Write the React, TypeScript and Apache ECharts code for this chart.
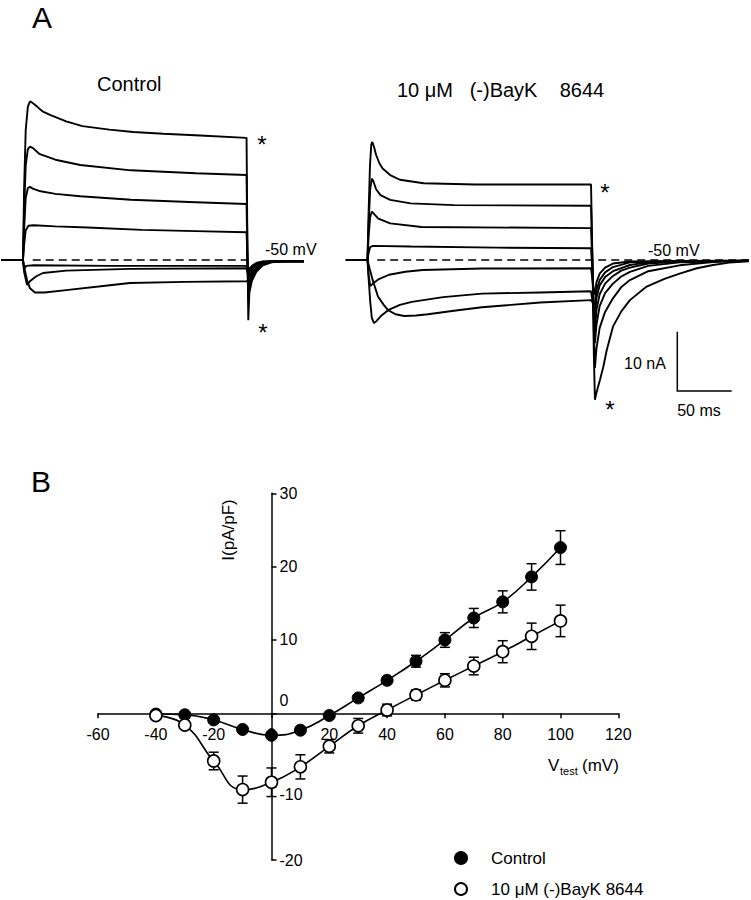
import React, { useEffect, useRef } from "react";
import * as echarts from "echarts";

const FONT = '"Liberation Sans", Arial, sans-serif';

// ---------- Panel A: current traces (time in ms, current in nA) ----------
const ctrlT1 = [[0,0],[20,0],[21,12],[22.5,22],[24.5,26],[26.5,26.9],[29,26.6],[33,26.0],[38,25.2],[45,24.6],[60,23.5],[75,22.7],[100,22.1],[122,21.7],[150,21.4],[184,21.1],[227,20.7],[227.8,2],[228.6,-10.2],[229.6,-5.5],[232,-3.5],[236,-2.0],[242,-0.9],[250,-0.4],[262,-0.2],[280,-0.2]];
const ctrlT2 = [[0,0],[20,0],[21,8],[22.5,16],[24.5,18.8],[26.5,19.2],[29,19.0],[35,18.0],[50,17.0],[73,16.1],[120,15.2],[180,14.7],[227,14.4],[227.8,1],[228.6,-6.8],[230,-4.2],[232,-3.0],[236,-1.7],[242,-0.8],[250,-0.35],[262,-0.2],[280,-0.2]];
const ctrlT3 = [[0,0],[20,0],[21,5],[22.5,10.5],[24.5,12.2],[26.5,12.4],[29,12.1],[35,11.7],[50,11.2],[73,10.8],[120,10.2],[180,9.8],[227,9.5],[227.8,0],[228.6,-5.3],[230,-3.6],[232,-2.6],[236,-1.4],[242,-0.65],[250,-0.3],[262,-0.2],[280,-0.2]];
const ctrlT4 = [[0,0],[20,0],[21,2.5],[22.5,5],[25,5.8],[30,5.9],[50,5.7],[80,5.5],[130,5.1],[180,4.9],[227,4.7],[227.8,0],[228.6,-4.2],[230,-3.0],[232,-2.1],[236,-1.1],[242,-0.5],[250,-0.25],[262,-0.2],[280,-0.2]];
const ctrlT5 = [[0,0],[20,0],[21,-1.5],[23,-1.0],[30,-0.9],[100,-1.0],[227,-1.0],[228.6,-1.9],[230,-1.4],[232,-1.0],[236,-0.5],[242,-0.25],[280,-0.2]];
const ctrlT6 = [[0,0],[20,0],[21,-2],[23.7,-4.2],[27,-3.5],[32,-2.8],[38.5,-2.2],[60,-1.8],[119,-1.5],[227,-1.4],[228.6,-2.6],[230,-1.9],[232,-1.3],[236,-0.7],[242,-0.3],[250,-0.2],[280,-0.2]];
const ctrlT7 = [[0,0],[20,0],[21.5,-1.5],[23.7,-3.4],[26.5,-4.8],[31,-5.5],[40,-5.5],[60,-5.1],[90,-4.5],[119,-3.9],[170,-3.7],[227,-3.6],[228.6,-3.5],[230,-2.5],[232,-1.8],[236,-0.9],[242,-0.4],[250,-0.2],[280,-0.2]];
const ctrlDash = [[29,0],[228,0]];

const bayT1 = [[0,0],[20,0],[21,8],[22.3,16],[23.5,19.6],[24.5,20.0],[26,19.2],[28,17.8],[31,16.4],[34,15.5],[41,14.4],[50,13.6],[72,13.0],[120,12.8],[227,12.8],[228.3,0],[229.6,-16],[230.6,-23.7],[232,-22.5],[235.3,-20.3],[238.5,-18],[241.5,-15.3],[247.3,-11.3],[255,-8.7],[263,-6.8],[278.5,-4.5],[295,-3.2],[309,-2.3],[325,-1.4],[340,-0.85],[355,-0.45],[373,-0.2]];
const bayT2 = [[0,0],[20,0],[21,6],[22.5,12],[24,13.8],[25.5,13.3],[28,12],[32,11],[41,10.2],[60,9.6],[100,9.3],[227,9.2],[228.3,0],[229.6,-12],[230.6,-18.3],[232,-15],[235,-11.5],[240,-8.8],[247.3,-6.5],[255,-4.6],[263,-3.4],[280,-1.9],[309,-0.9],[340,-0.35],[373,-0.1]];
const bayT3 = [[0,0],[20,0],[21,4],[22.5,7.3],[24,8.2],[26,7.8],[30,7.0],[41,6.2],[70,5.6],[227,5.4],[228.3,-1],[229.6,-10],[230.6,-14.1],[232,-11],[235,-7.8],[240,-5.6],[247.3,-4.0],[255,-2.8],[263,-2.0],[280,-1.0],[309,-0.4],[373,-0.1]];
const bayT4 = [[0,0],[20,0],[21,1.2],[22.5,2.2],[25,2.4],[60,2.3],[140,2.1],[227,2.0],[228.3,-2],[229.6,-9],[230.6,-11.9],[232,-8.5],[235,-5.8],[240,-4.0],[247.3,-2.7],[255,-1.8],[263,-1.3],[280,-0.6],[309,-0.25],[373,-0.1]];
const bayT5 = [[0,0],[20,0],[21,-2.5],[22.5,-4.4],[25,-4.0],[30,-3.3],[40,-2.5],[55,-2.0],[71,-1.7],[126,-1.45],[227,-1.4],[229.6,-5],[230.6,-5.9],[232,-3.8],[235,-2.3],[240,-1.3],[247.3,-0.6],[263,-0.25],[373,-0.1]];
const bayT6 = [[0,0],[20,0],[21,-3],[22.5,-7],[24,-9.8],[26,-10.7],[28,-10.4],[33,-9.4],[39,-8.5],[50,-7.6],[61,-7.1],[90,-6.3],[126,-5.7],[180,-5.5],[227,-5.3],[229.6,-8.5],[230.6,-9.3],[232,-6.5],[235,-4.3],[240,-2.9],[247.3,-1.9],[263,-0.85],[280,-0.4],[373,-0.1]];
const bayT7 = [[0,0],[20,0],[22,-1.5],[25,-3.5],[29.7,-6.2],[35,-7.6],[39,-8.5],[46,-9.2],[54,-9.5],[65,-9.4],[76,-9.2],[100,-8.6],[126,-8.0],[180,-7.2],[227,-6.8],[229.6,-7.4],[230.6,-7.6],[232,-5.2],[235,-3.4],[240,-2.1],[247.3,-1.2],[263,-0.4],[300,-0.15],[373,-0.1]];
const bayDash = [[29,0],[373,0]];

const controlTraces = [ctrlT1, ctrlT2, ctrlT3, ctrlT4, ctrlT5, ctrlT6, ctrlT7];
const baykTraces = [bayT1, bayT2, bayT3, bayT4, bayT5, bayT6, bayT7];

// ---------- Panel B: I-V relation ----------
const voltages = [-40, -30, -20, -10, 0, 10, 20, 30, 40, 50, 60, 70, 80, 90, 100];
const controlI = [-0.1, -0.2, -0.9, -2.2, -3.0, -2.3, -0.3, 2.1, 4.5, 7.1, 10.0, 13.0, 15.2, 18.6, 22.6];
const controlErr = [0.2, 0.3, 0.3, 0.3, 0.4, 0.4, 0.3, 0.4, 0.4, 0.8, 1.0, 1.3, 1.5, 1.8, 2.3];
const baykI = [-0.3, -1.6, -6.5, -10.4, -9.4, -7.3, -4.5, -1.7, 0.45, 2.5, 4.5, 6.45, 8.4, 10.5, 12.6];
const baykErr = [0.2, 0.3, 1.2, 1.85, 1.95, 1.65, 0.9, 1.0, 0.8, 0.7, 0.9, 1.2, 1.5, 1.8, 2.15];
const xTicks = { min: -60, max: 120, step: 20 };
const yTicks = { min: -20, max: 30, step: 10 };
const CONTROL_NAME = "Control";
const BAYK_NAME = "10 μM (-)BayK 8644";

function errRender(params: any, api: any) {
  const x = api.value(0);
  const lo = api.coord([x, api.value(1)]);
  const hi = api.coord([x, api.value(2)]);
  const w = 5;
  const style = { stroke: "#000", lineWidth: 1.5 };
  return {
    type: "group",
    children: [
      { type: "line", shape: { x1: lo[0], y1: lo[1], x2: hi[0], y2: hi[1] }, style },
      { type: "line", shape: { x1: hi[0] - w, y1: hi[1], x2: hi[0] + w, y2: hi[1] }, style },
      { type: "line", shape: { x1: lo[0] - w, y1: lo[1], x2: lo[0] + w, y2: lo[1] }, style },
    ],
  };
}

function traceSeries(data: number[][], idx: number, dashed = false) {
  return {
    type: "line",
    xAxisIndex: idx,
    yAxisIndex: idx,
    data,
    showSymbol: false,
    symbol: "none",
    silent: true,
    smooth: false,
    lineStyle: { color: "#000", width: dashed ? 1.6 : 1.9, type: dashed ? [8, 5] : "solid" },
    z: dashed ? 1 : 2,
  };
}

function txt(text: string, x: number, y: number, fontSize: number, align = "left", extra: any = {}) {
  return {
    type: "text",
    x,
    y,
    silent: true,
    ...extra,
    style: { text, fill: "#000", fontSize, fontFamily: FONT, align, verticalAlign: "middle" },
  };
}

export default function App() {
  const ref = useRef<HTMLDivElement>(null);
  useEffect(() => {
    if (!ref.current) return;
    const chart = echarts.init(ref.current, undefined, { renderer: "svg" });
    const axisBlack = { color: "#000", width: 1.5 };
    const gridB = { left: 98.1, top: 493.3, width: 520.2, height: 366.7 };
    // place axes through the origin (0 mV, 0 pA/pF)
    const yAxisOffset = -((0 - xTicks.min) / (xTicks.max - xTicks.min)) * gridB.width;
    const xAxisOffset = -((0 - yTicks.min) / (yTicks.max - yTicks.min)) * gridB.height;
    const option: any = {
      animation: false,
      backgroundColor: "#fff",
      textStyle: { fontFamily: FONT },
      grid: [
        { left: 1.4, top: 83, width: 302.4, height: 330.4 },
        { left: 345.9, top: 83, width: 402.8, height: 330.4 },
        gridB,
      ],
      xAxis: [
        { gridIndex: 0, type: "value", min: 0, max: 280, show: false },
        { gridIndex: 1, type: "value", min: 0, max: 373, show: false },
        {
          gridIndex: 2,
          type: "value",
          position: "bottom",
          offset: xAxisOffset,
          min: xTicks.min,
          max: xTicks.max,
          interval: xTicks.step,
          axisLine: { onZero: false, lineStyle: axisBlack },
          axisTick: { show: true, inside: false, length: 5, lineStyle: axisBlack },
          axisLabel: { color: "#000", fontSize: 16, margin: 13, fontFamily: FONT, showMinLabel: true, showMaxLabel: true },
          splitLine: { show: false },
        },
      ],
      yAxis: [
        { gridIndex: 0, type: "value", min: -26, max: 30, show: false },
        { gridIndex: 1, type: "value", min: -26, max: 30, show: false },
        {
          gridIndex: 2,
          type: "value",
          position: "left",
          offset: yAxisOffset,
          min: yTicks.min,
          max: yTicks.max,
          interval: yTicks.step,
          axisLine: { onZero: false, lineStyle: axisBlack },
          axisTick: { show: true, inside: true, length: 5, lineStyle: axisBlack },
          axisLabel: {
            inside: true,
            margin: 8,
            color: "#000",
            fontSize: 16,
            fontFamily: FONT,
            showMinLabel: true,
            showMaxLabel: true,
            formatter: (v: number) => (v === 0 ? "{up|0}" : v === -10 ? "{dn|-10}" : String(v)),
            rich: {
              up: { fontSize: 16, color: "#000", fontFamily: FONT, padding: [0, 0, 26, 0] },
              dn: { fontSize: 16, color: "#000", fontFamily: FONT, padding: [16, 0, 0, 0] },
            },
          },
          splitLine: { show: false },
        },
      ],
      legend: {
        orient: "vertical",
        left: 454,
        top: 849.5,
        height: 50,
        padding: 0,
        itemWidth: 12,
        itemHeight: 12,
        itemGap: 14,
        data: [CONTROL_NAME, BAYK_NAME],
        textStyle: { color: "#000", fontSize: 17, fontFamily: FONT, lineHeight: 17, padding: [0, 0, 0, 19] },
      },
      series: [
        ...controlTraces.map((d) => traceSeries(d, 0)),
        traceSeries(ctrlDash, 0, true),
        ...baykTraces.map((d) => traceSeries(d, 1)),
        traceSeries(bayDash, 1, true),
        {
          type: "line",
          name: "Control fit",
          xAxisIndex: 2,
          yAxisIndex: 2,
          data: voltages.map((v, i) => [v, controlI[i]]),
          smooth: true,
          showSymbol: false,
          symbol: "none",
          silent: true,
          lineStyle: { color: "#000", width: 1.6 },
          z: 2,
        },
        {
          type: "line",
          name: "BayK fit",
          xAxisIndex: 2,
          yAxisIndex: 2,
          data: voltages.map((v, i) => [v, baykI[i]]),
          smooth: true,
          showSymbol: false,
          symbol: "none",
          silent: true,
          lineStyle: { color: "#000", width: 1.6 },
          z: 2,
        },
        {
          type: "custom",
          name: "Control SEM",
          xAxisIndex: 2,
          yAxisIndex: 2,
          renderItem: errRender,
          data: voltages.map((v, i) => [v, controlI[i] - controlErr[i], controlI[i] + controlErr[i]]),
          encode: { x: 0, y: [1, 2] },
          silent: true,
          z: 3,
        },
        {
          type: "custom",
          name: "BayK SEM",
          xAxisIndex: 2,
          yAxisIndex: 2,
          renderItem: errRender,
          data: voltages.map((v, i) => [v, baykI[i] - baykErr[i], baykI[i] + baykErr[i]]),
          encode: { x: 0, y: [1, 2] },
          silent: true,
          z: 3,
        },
        {
          type: "scatter",
          name: CONTROL_NAME,
          xAxisIndex: 2,
          yAxisIndex: 2,
          data: voltages.map((v, i) => [v, controlI[i]]),
          symbol: "circle",
          symbolSize: 12,
          itemStyle: { color: "#000", borderColor: "#000", borderWidth: 1, opacity: 1 },
          z: 4,
        },
        {
          type: "scatter",
          name: BAYK_NAME,
          xAxisIndex: 2,
          yAxisIndex: 2,
          data: voltages.map((v, i) => [v, baykI[i]]),
          symbol: "circle",
          symbolSize: 12,
          itemStyle: { color: "#fff", borderColor: "#000", borderWidth: 1.6, opacity: 1 },
          z: 5,
        },
      ],
      graphic: [
        txt("A", 42, 17, 30, "center"),
        txt("Control", 97, 84, 20),
        txt("10 μM   (-)BayK    8644", 397, 90, 20),
        txt("-50 mV", 265, 249, 16),
        txt("-50 mV", 648, 250, 16),
        txt("*", 262, 144, 24, "center"),
        txt("*", 263, 332, 24, "center"),
        txt("*", 605, 192, 24, "center"),
        txt("*", 610, 409, 24, "center"),
        txt("10 nA", 645, 363, 16, "center"),
        txt("50 ms", 699, 410, 16, "center"),
        {
          type: "polyline",
          silent: true,
          shape: { points: [[677.3, 331.7], [677.3, 391], [731.7, 391]] },
          style: { stroke: "#000", lineWidth: 1.5, fill: null },
        },
        txt("B", 41, 481, 30, "center"),
        txt("I(pA/pF)", 228, 530, 17, "center", { rotation: Math.PI / 2 }),
        txt("V", 548, 765, 17),
        txt("test", 560, 771, 11),
        txt("(mV)", 582, 765, 17),
      ],
    };
    chart.setOption(option);
    return () => chart.dispose();
  }, []);
  return (
    <div
      ref={ref}
      style={{ position: "absolute", left: 0, top: 0, width: 751, height: 900, background: "#fff" }}
    />
  );
}
